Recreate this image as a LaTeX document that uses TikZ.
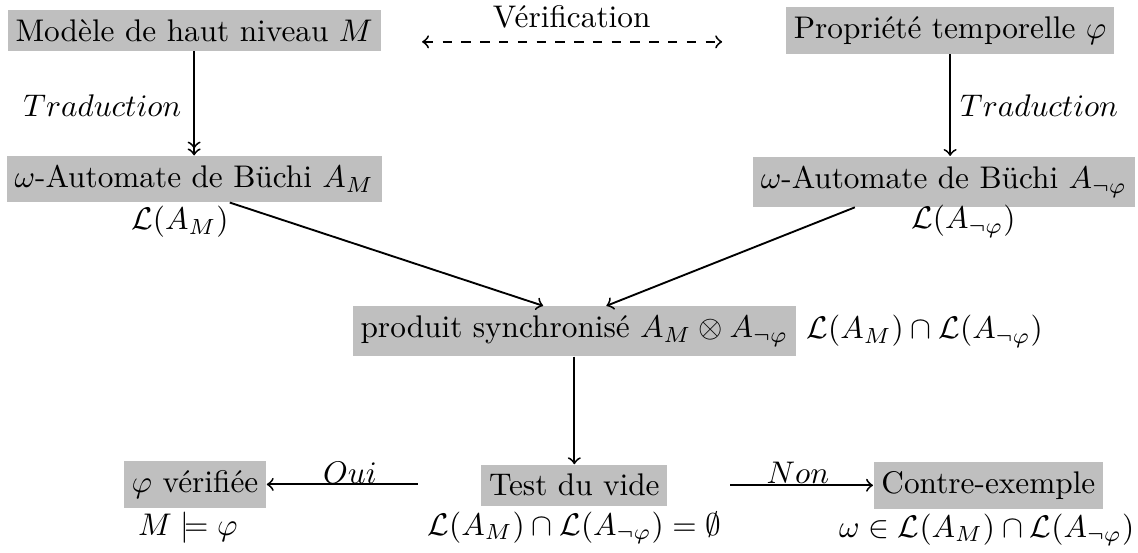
\documentclass[tikz,border=0pt]{standalone}
\usepackage{amssymb}
\usetikzlibrary{positioning}
\tikzset{
  boite/.style={fill=gray!50, inner xsep=2.5pt, inner ysep=3pt},
  etiq/.style={inner sep=1pt},
  fleche/.style={->, semithick},
}
\begin{document}
\begin{tikzpicture}
    \useasboundingbox (0,0) rectangle (12.78,6.20);
    % modele et propriete
    \node[boite] (modele) at (2.18,5.86) {Modèle de haut niveau $M$};
    \node[boite] (propriete) at (10.67,5.86) {Propriété temporelle $\varphi$};
    \node[etiq] (verif) at (6.42,6.01) {Vérification};
    \coordinate (vg) at (4.74,5.73);
    \coordinate (vd) at (8.11,5.73);
    \draw[semithick, dashed, <->] (vg) -- (vd);

    % automates de Buchi
    \node[boite] (buchiM) at (2.18,4.19) {$\omega$-Automate de Büchi $A_M$};
    \node[boite] (buchiPhi) at (10.60,4.16) {$\omega$-Automate de Büchi $A_{\neg\varphi}$};
    \node[etiq] (LM) at (2.02,3.71) {$\mathcal{L}(A_M)$};
    \node[etiq] (LPhi) at (10.82,3.71) {$\mathcal{L}(A_{\neg\varphi})$};
    \draw[semithick, ->>] (modele.south) -- (buchiM.north);
    \draw[fleche] (propriete.south) -- (propriete.south |- buchiPhi.north);
    \node[etiq] (tradG) at (1.15,5.01) {$Traduction$};
    \node[etiq] (tradD) at (11.67,5.01) {$Traduction$};

    % produit
    \node[boite] (produit) at (6.45,2.48) {produit synchronisé $A_M\otimes A_{\neg\varphi}$};
    \node[etiq, right=2pt of produit] (Lprod) {$\mathcal{L}(A_M)\cap\mathcal{L}(A_{\neg\varphi})$};
    \draw[fleche] ([xshift=0.40cm]buchiM.south) -- ([xshift=-0.35cm]produit.north);
    \draw[fleche] ([xshift=-1.0cm]buchiPhi.south) -- ([xshift=0.36cm]produit.north);

    % test du vide
    \node[boite] (test) at (6.45,0.75) {Test du vide};
    \node[etiq] (Ltest) at (6.45,0.27) {$\mathcal{L}(A_M)\cap\mathcal{L}(A_{\neg\varphi})=\emptyset$};
    \draw[fleche] (produit.south) -- (test.north);

    \node[boite] (verifiee) at (2.19,0.76) {$\varphi$ vérifiée};
    \node[etiq] (Mphi) at (2.11,0.27) {$M\models\varphi$};
    \node[boite] (contre) at (11.10,0.75) {Contre-exemple};
    \node[etiq] (omega) at (11.08,0.25) {$\omega\in\mathcal{L}(A_M)\cap\mathcal{L}(A_{\neg\varphi})$};

    \coordinate (ouiD) at (4.69,0.76);
    \coordinate (nonG) at (8.20,0.75);
    \draw[fleche] (ouiD) -- (verifiee.east);
    \draw[fleche] (nonG) -- (contre.west);
    \node[etiq] (oui) at (3.93,0.89) {$Oui$};
    \node[etiq] (non) at (8.96,0.89) {$Non$};
\end{tikzpicture}
\end{document}
